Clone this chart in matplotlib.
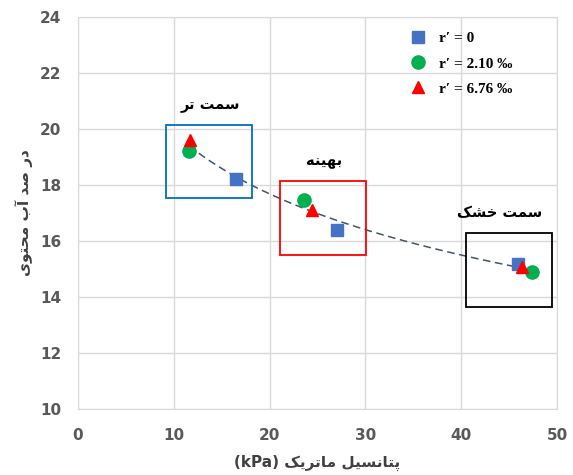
import numpy as np
import matplotlib
matplotlib.use("Agg")
import matplotlib.pyplot as plt
from matplotlib.patches import Rectangle

# data
x_r0 = [16.5, 27.0, 45.9]
y_r0 = [18.2, 16.4, 15.17]
x_r210 = [11.6, 23.6, 47.4]
y_r210 = [19.22, 17.45, 14.88]
x_r676 = [11.7, 24.4, 46.3]
y_r676 = [19.6, 17.1, 15.08]
labels = ["r\u2032 = 0", "r\u2032 = 2.10 \u2030", "r\u2032 = 6.76 \u2030"]

# zones: (x0, x1, y0, y1), label text
zone_boxes = [(9.2, 18.2, 17.53, 20.13), (21.1, 30.1, 15.5, 18.13), (40.5, 49.5, 13.63, 16.28)]
zone_names = ["سمت تر", "بهینه", "سمت خشک"]
zone_colors = ["#0070C0", "#FF0000", "black"]
zone_label_x = [13.8, 25.7, 44.0]

xlabel_fa = "پتانسیل ماتریک"
ylabel_fa = "در صد آب محتوی"

# presentation forms: isolated, final, initial, medial (right-joining letters have only 2)
FORMS = {
    "\u0627": ("\uFE8D", "\uFE8E"), "\u0622": ("\uFE81", "\uFE82"),
    "\u062F": ("\uFEA9", "\uFEAA"), "\u0631": ("\uFEAD", "\uFEAE"),
    "\u0648": ("\uFEED", "\uFEEE"),
    "\u0628": ("\uFE8F", "\uFE90", "\uFE91", "\uFE92"),
    "\u067E": ("\uFB56", "\uFB57", "\uFB58", "\uFB59"),
    "\u062A": ("\uFE95", "\uFE96", "\uFE97", "\uFE98"),
    "\u062D": ("\uFEA1", "\uFEA2", "\uFEA3", "\uFEA4"),
    "\u062E": ("\uFEA5", "\uFEA6", "\uFEA7", "\uFEA8"),
    "\u0633": ("\uFEB1", "\uFEB2", "\uFEB3", "\uFEB4"),
    "\u0634": ("\uFEB5", "\uFEB6", "\uFEB7", "\uFEB8"),
    "\u0635": ("\uFEB9", "\uFEBA", "\uFEBB", "\uFEBC"),
    "\u06A9": ("\uFB8E", "\uFB8F", "\uFB90", "\uFB91"),
    "\u0644": ("\uFEDD", "\uFEDE", "\uFEDF", "\uFEE0"),
    "\u0645": ("\uFEE1", "\uFEE2", "\uFEE3", "\uFEE4"),
    "\u0646": ("\uFEE5", "\uFEE6", "\uFEE7", "\uFEE8"),
    "\u0647": ("\uFEE9", "\uFEEA", "\uFEEB", "\uFEEC"),
    "\u06CC": ("\uFBFC", "\uFBFD", "\uFBFE", "\uFBFF"),
}


def rtl(text):
    # shape letters and put them in visual order
    out = []
    for i, ch in enumerate(text):
        if ch not in FORMS:
            out.append(ch)
            continue
        prev = text[i - 1] if i > 0 else ""
        nxt = text[i + 1] if i + 1 < len(text) else ""
        join_prev = prev in FORMS and len(FORMS[prev]) == 4
        join_next = nxt in FORMS and len(FORMS[ch]) == 4
        f = FORMS[ch]
        if join_prev and join_next:
            out.append(f[3])
        elif join_prev:
            out.append(f[1])
        elif join_next:
            out.append(f[2])
        else:
            out.append(f[0])
    return "".join(reversed(out))


fig = plt.figure(figsize=(5.73, 4.75), dpi=100)
ax = fig.add_axes([0.136, 0.139, 0.836, 0.825])

# trendline (log fit over all points)
xs = np.array(x_r0 + x_r210 + x_r676)
ys = np.array(y_r0 + y_r210 + y_r676)
b, a = np.polyfit(np.log(xs), ys, 1)
xt = np.linspace(xs.min(), xs.max(), 200)
ax.plot(xt, a + b * np.log(xt), ls=(0, (5, 3)), color="#44546A", lw=1.1, zorder=2)

ax.plot(x_r0, y_r0, "s", color="#4472C4", ms=9, ls="none", label=labels[0], zorder=3)
ax.plot(x_r210, y_r210, "o", color="#00B050", ms=9.5, ls="none", label=labels[1], zorder=3)
ax.plot(x_r676, y_r676, "^", color="#FF0000", ms=8, ls="none", label=labels[2], zorder=4)

for (x0, x1, y0, y1), name, c, lx in zip(zone_boxes, zone_names, zone_colors, zone_label_x):
    ax.add_patch(Rectangle((x0, y0), x1 - x0, y1 - y0, fill=False, ec=c, lw=1.3, zorder=5))
    ax.text(lx, y1 + 0.45, rtl(name), ha="center", va="bottom",
            fontsize=10.5, fontweight="bold", family="DejaVu Sans")

ax.set_xlim(0, 50)
ax.set_ylim(10, 24)
ax.set_xticks(range(0, 51, 10))
ax.set_yticks(range(10, 25, 2))
ax.grid(True, color="#D9D9D9", lw=1)
ax.set_axisbelow(True)
for s in ax.spines.values():
    s.set_color("#D9D9D9")
ax.tick_params(length=0, labelsize=11, labelcolor="#595959")
ax.tick_params(axis="x", pad=14)
ax.tick_params(axis="y", pad=12)
for t in ax.get_xticklabels() + ax.get_yticklabels():
    t.set_fontweight("bold")

ax.set_xlabel("(kPa) " + rtl(xlabel_fa), fontsize=11, fontweight="bold",
              color="#404040", labelpad=8)
ax.set_ylabel(rtl(ylabel_fa), fontsize=11, fontweight="bold", color="#404040", labelpad=5)

ax.legend(loc="upper right", bbox_to_anchor=(0.93, 0.99), frameon=False,
          prop={"family": "Liberation Serif", "weight": "bold", "size": 11},
          handletextpad=0.4, labelspacing=0.75, borderaxespad=0.3)

fig.savefig("out.png", dpi=100)
